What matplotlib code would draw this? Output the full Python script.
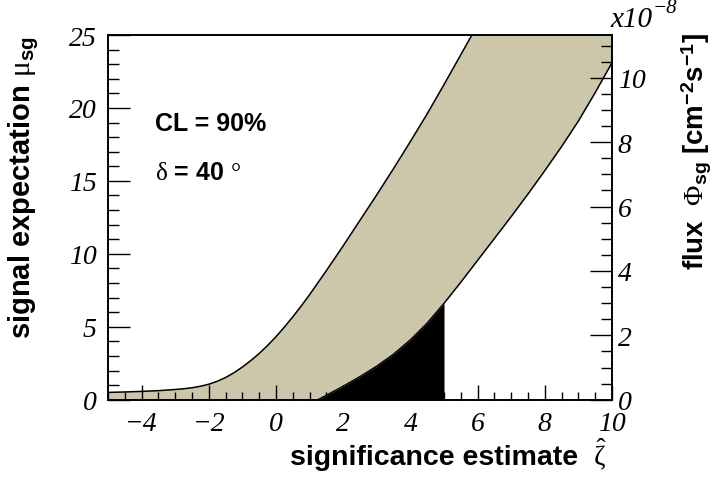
import matplotlib
matplotlib.use("Agg")
import matplotlib.pyplot as plt
from matplotlib.ticker import MultipleLocator
from matplotlib.font_manager import FontProperties
import numpy as np

plt.rcParams['mathtext.fontset'] = 'custom'
plt.rcParams['mathtext.rm'] = 'Liberation Serif'
plt.rcParams['mathtext.it'] = 'Liberation Serif:italic'
plt.rcParams['mathtext.bf'] = 'Liberation Sans:bold'

# upper edge of the band (signal expectation vs significance estimate)
up_x = np.array([-5.0, -4.5, -4.0, -3.5, -3.0, -2.75, -2.5, -2.25, -2.0, -1.75, -1.5, -1.25,
                 -1.0, -0.75, -0.5, -0.25, 0.0, 0.25, 0.5, 0.75, 1.0, 1.5, 2.0, 2.5,
                 3.0, 3.5, 4.0, 4.5, 5.0, 5.5, 6.0, 7.0, 8.0, 9.0, 10.0])
up_y = np.array([0.50, 0.53, 0.57, 0.62, 0.70, 0.75, 0.82, 0.92, 1.06, 1.26, 1.52, 1.85,
                 2.24, 2.68, 3.17, 3.72, 4.32, 4.98, 5.68, 6.42, 7.20, 8.85, 10.55, 12.3,
                 14.05, 15.85, 17.7, 19.6, 21.6, 23.65, 25.7, 29.8, 33.9, 38.0, 42.1])

# lower edge of the band
lo_x = np.array([-5.0, 1.25, 1.5, 2.0, 2.5, 3.0, 3.5, 4.0, 4.5, 5.0, 5.5, 6.0, 6.5,
                 7.0, 7.5, 8.0, 8.5, 9.0, 9.5, 10.0])
lo_y = np.array([0.0, 0.0, 0.30, 0.92, 1.58, 2.30, 3.12, 4.10, 5.25, 6.60, 8.05, 9.55, 11.05,
                 12.55, 14.1, 15.7, 17.35, 19.1, 21.05, 23.1])

black_lo, black_hi = 1.25, 5.0
mu_max = 25
flux_max = 11.33   # x1e-8 cm^-2 s^-1 at mu = 25

band_col = '#ccc7ab'

fig = plt.figure(figsize=(7.15, 4.81), dpi=100)
ax = fig.add_axes([108/715, 1-400.7/481, (612-108)/715, (400.7-36)/481])

ax.fill(np.r_[up_x, lo_x[::-1]], np.r_[up_y, lo_y[::-1]], color=band_col, lw=0)
ax.fill_between(lo_x, 0, lo_y, where=(lo_x >= black_lo) & (lo_x <= black_hi),
                color='black', lw=0)
ax.plot(up_x, up_y, color='black', lw=1.1)
m = lo_x >= black_lo
ax.plot(lo_x[m], lo_y[m], color='black', lw=1.1)

ax.set_xlim(-5, 10)
ax.set_ylim(0, mu_max)

tickfont = dict(family='Liberation Serif', style='italic', size=20)
ax.xaxis.set_major_locator(MultipleLocator(2))
ax.xaxis.set_minor_locator(MultipleLocator(0.5))
ax.yaxis.set_major_locator(MultipleLocator(5))
ax.yaxis.set_minor_locator(MultipleLocator(1))
ax.tick_params(axis='x', which='major', direction='in', length=11, width=1, pad=8, top=False)
ax.tick_params(axis='x', which='minor', direction='in', length=5.5, width=1, top=False)
ax.tick_params(axis='y', which='major', direction='in', length=16, width=1, pad=8, right=False)
ax.tick_params(axis='y', which='minor', direction='in', length=8, width=1, right=False)
for lab in ax.get_xticklabels() + ax.get_yticklabels():
    lab.set_fontproperties(FontProperties(**tickfont))

ax2 = ax.twinx()
ax2.set_ylim(0, flux_max)
ax2.yaxis.set_major_locator(MultipleLocator(2))
ax2.yaxis.set_minor_locator(MultipleLocator(0.5))
ax2.tick_params(axis='y', which='major', direction='in', length=16, width=1, pad=4)
ax2.tick_params(axis='y', which='minor', direction='in', length=8, width=1)
for lab in ax2.get_yticklabels():
    lab.set_fontproperties(FontProperties(**tickfont))
for a in (ax, ax2):
    for s in a.spines.values():
        s.set_linewidth(1.2)

ax.text(-3.6, 18.5, "CL = 90%", family='Liberation Sans', weight='bold', size=18)
ax.text(-3.6, 15.1, r"$\mathrm{\delta}$ = 40 $\mathrm{°}$", family='Liberation Sans',
        weight='bold', size=18)

fig.text(24/715, 1-36/481, r"signal expectation $\mathrm{\mu}_{\mathbf{sg}}$",
         rotation=90, ha='center', va='top', family='Liberation Sans', weight='bold', size=21)
fig.text(697/715, 1-33/481, r"flux  $\mathrm{\Phi}_{\mathbf{sg}}$ [cm$^{\mathbf{-2}}$s$^{\mathbf{-1}}$]",
         rotation=90, ha='center', va='top', family='Liberation Sans', weight='bold', size=20)
fig.text(578/715, 1-465/481, "significance estimate",
         ha='right', va='baseline', family='Liberation Sans', weight='bold', size=20.5)
fig.text(600/715, 1-465/481, r"$\hat{\mathrm{\zeta}}$",
         ha='center', va='baseline', size=20)
fig.text(610/715, 1-27/481, "x10", family='Liberation Serif', style='italic', size=21,
         va='baseline')
fig.text(653/715, 1-13/481, "\u22128", family='Liberation Serif', style='italic', size=15,
         va='baseline')

fig.savefig("out.png", dpi=100)
